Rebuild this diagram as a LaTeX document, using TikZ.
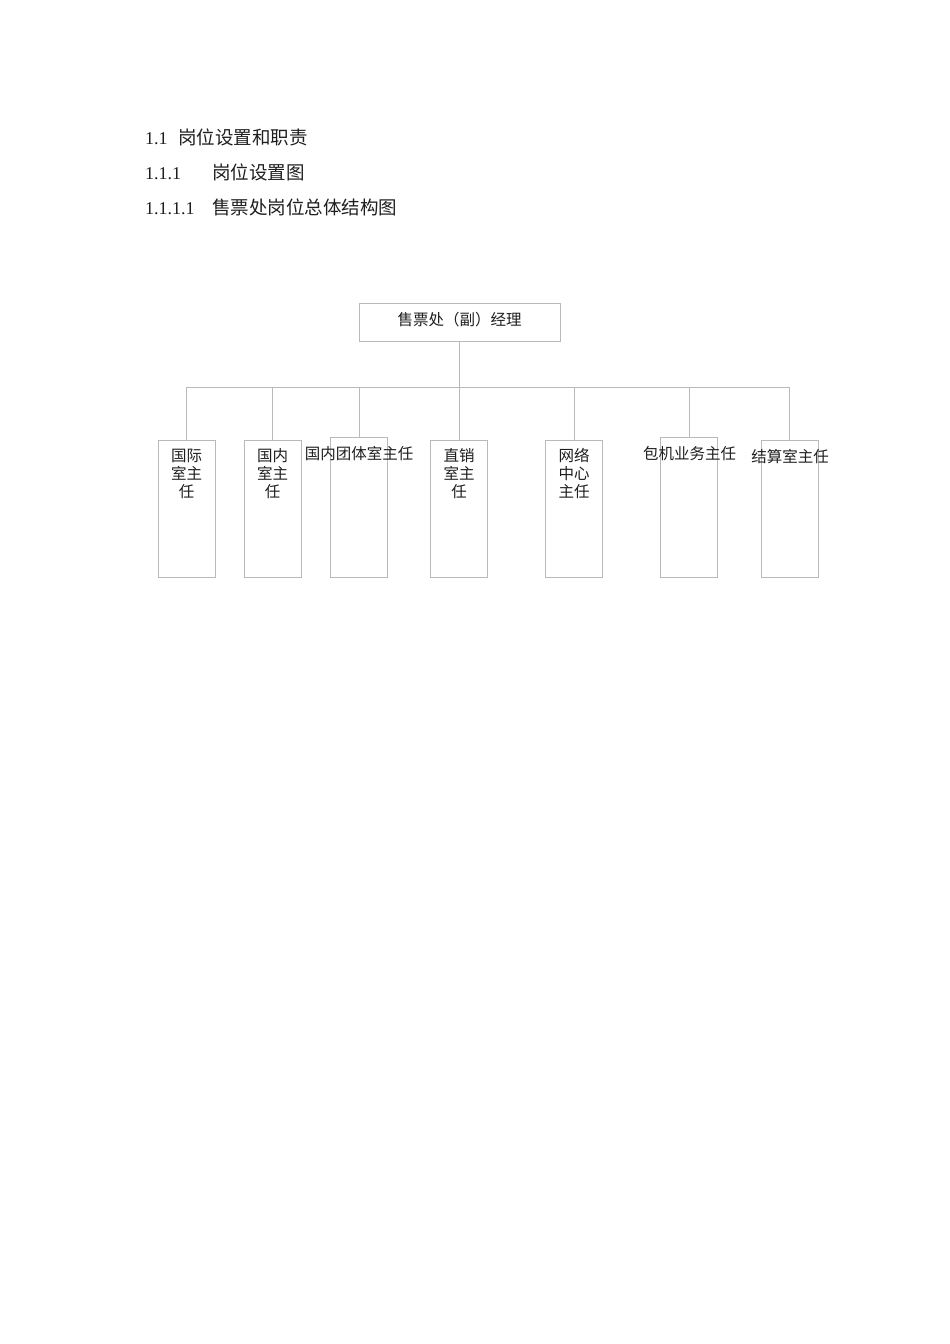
\documentclass[tikz,border=0pt]{standalone}
\usepackage{fontspec}
\setmainfont{Liberation Serif}
\newfontfamily\cjk{Noto Sans CJK SC}
\definecolor{ln}{RGB}{185,185,185}
\definecolor{tx}{RGB}{30,30,30}
\begin{document}
\begin{tikzpicture}[x=1pt,y=-1pt,
  box/.style={draw=ln, line width=0.8pt, minimum width=57pt, minimum height=137pt, inner sep=0pt},
  tallbox/.style={box, minimum height=140pt},
  conn/.style={draw=ln, line width=0.8pt},
  lbl/.style={font=\fontsize{15.5}{18}\cjk, align=center, inner sep=0pt, text=tx},
  head/.style={font=\fontsize{18}{22}\selectfont, anchor=base west, inner sep=0pt, text=tx},
  headc/.style={head, font=\fontsize{18.5}{22}\cjk}]
\useasboundingbox (0,0) rectangle (950,1344);
% headings
\node[head] (h1n) at (145,144) {1.1};
\node[headc] (h1t) at (178,144) {岗位设置和职责};
\node[head] (h2n) at (145,179) {1.1.1};
\node[headc] (h2t) at (212,179) {岗位设置图};
\node[head] (h3n) at (145,214) {1.1.1.1};
\node[headc] (h3t) at (212,214) {售票处岗位总体结构图};
% top box
\node[draw=ln, line width=0.8pt, minimum width=201pt, minimum height=38pt, inner sep=0pt] (m) at (459.5,322) {};
\node[lbl] (mt) at (459.5,320) {售票处（副）经理};
% child boxes
\node[box] (b1) at (186.5,508.5) {};
\node[box] (b2) at (272.5,508.5) {};
\node[tallbox] (b3) at (359,507) {};
\node[box] (b4) at (459,508.5) {};
\node[box] (b5) at (574,508.5) {};
\node[tallbox] (b6) at (689,507) {};
\node[box] (b7) at (789.5,508.5) {};
% labels
\node[lbl] (t1) at (186.5,474) {国际\\室主\\任};
\node[lbl] (t2) at (272.5,474) {国内\\室主\\任};
\node[lbl] (t3) at (359,454) {国内团体室主任};
\node[lbl] (t4) at (459,474) {直销\\室主\\任};
\node[lbl] (t5) at (574,474) {网络\\中心\\主任};
\node[lbl] (t6) at (689.5,454) {包机业务主任};
\node[lbl] (t7) at (790,457) {结算室主任};
% connectors
\coordinate (bus) at (459.5,387);
\coordinate (bl) at (186.5,387);
\coordinate (br) at (789.5,387);
\draw[conn] (m.south) -- (bus);
\draw[conn] (bl) -- (br);
\foreach \b in {b1,b2,b3,b4,b5,b6,b7}
  \draw[conn] (\b.north |- bus) -- (\b.north);
\end{tikzpicture}
\end{document}
